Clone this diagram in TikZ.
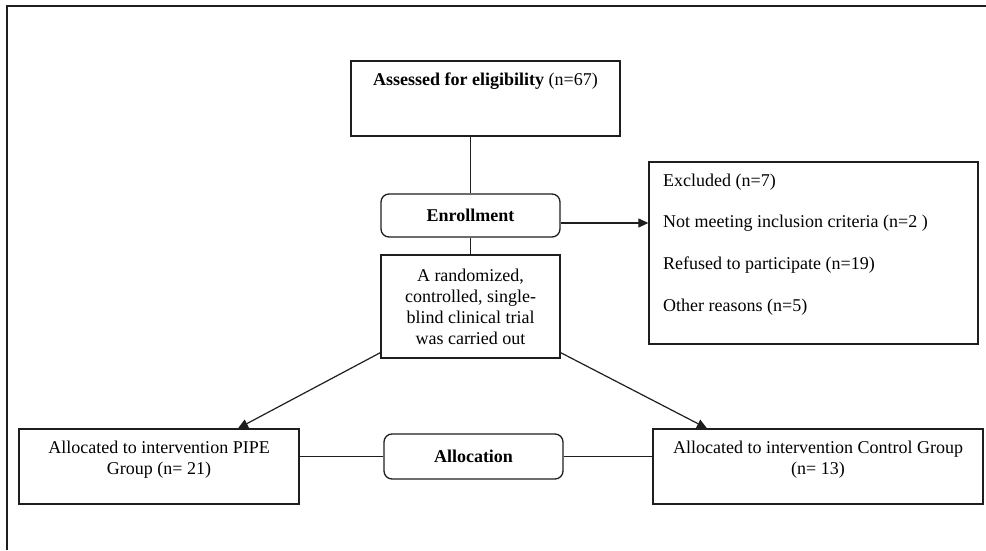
\documentclass[tikz,border=0pt]{standalone}
\usepackage{fontspec}
\setmainfont{Liberation Serif}
\definecolor{LineColor}{RGB}{30,30,30}
\usetikzlibrary{arrows.meta, calc}

\begin{document}
\begin{tikzpicture}[x=1pt, y=1pt,
    font=\fontsize{18}{21}\selectfont,
    box/.style={draw=LineColor, line width=1.3pt, inner sep=0pt},
    roundbox/.style={box, rounded corners=8pt, font=\fontsize{18}{21}\selectfont\bfseries},
    txt/.style={inner sep=0pt, align=center},
    link/.style={draw=LineColor, line width=1.2pt},
    arrow/.style={link, -{Triangle[length=10pt, width=9pt]}}]
          \useasboundingbox (0,0) rectangle (986,550);
          \draw[LineColor, line width=1.4pt] (7,0) -- (7,544) -- (986,544);
          \node[box, minimum width=269pt, minimum height=75pt] (assess) at (485.5,451.5) {};
          \node[txt, anchor=north] (assesstxt) at (485.5,477.4) {\textbf{Assessed for eligibility} (n=67)};
          \node[roundbox, minimum width=179pt, minimum height=43pt] (enroll) at (470.5,334.5) {Enrollment};
          \node[box, txt, minimum width=179pt, minimum height=103pt] (trial) at (470.5,243.5) {A randomized,\\controlled, single-\\blind clinical trial\\was carried out};
          \node[box, minimum width=329pt, minimum height=182pt] (excl) at (813.5,297) {};
          \node[txt, align=left, anchor=north west] (excltxt) at (663,376.4) {Excluded (n=7)\\[20.7pt]Not meeting inclusion criteria (n=2 )\\[20.7pt]Refused to participate (n=19)\\[20.7pt]Other reasons (n=5)};
          \node[box, minimum width=280pt, minimum height=75pt] (pipe) at (159,83.5) {};
          \node[txt, anchor=north] (pipetxt) at (159,109.4) {Allocated to intervention PIPE\\Group (n= 21)};
          \node[roundbox, minimum width=179pt, minimum height=45pt] (alloc) at (473.5,93.5) {Allocation};
          \node[box, minimum width=330pt, minimum height=75pt] (ctrl) at (818,83.5) {};
          \node[txt, anchor=north] (ctrltxt) at (818,109.4) {Allocated to intervention Control Group\\(n= 13)};
          \draw[link] (enroll.north |- assess.south) -- (enroll.north);
          \draw[link] (enroll.south) -- (trial.north);
          \draw[arrow] ([yshift=-7.5pt]enroll.east) -- ([yshift=-7.5pt]enroll.east -| excl.west);
          \draw[arrow] ([yshift=6pt]trial.south west) -- ([xshift=79pt]pipe.north);
          \draw[arrow] ([yshift=6pt]trial.south east) -- ([xshift=-111pt]ctrl.north);
          \draw[link] (alloc.west) -- (alloc.west -| pipe.east);
          \draw[link] (alloc.east) -- (alloc.east -| ctrl.west);
        \end{tikzpicture}
\end{document}
